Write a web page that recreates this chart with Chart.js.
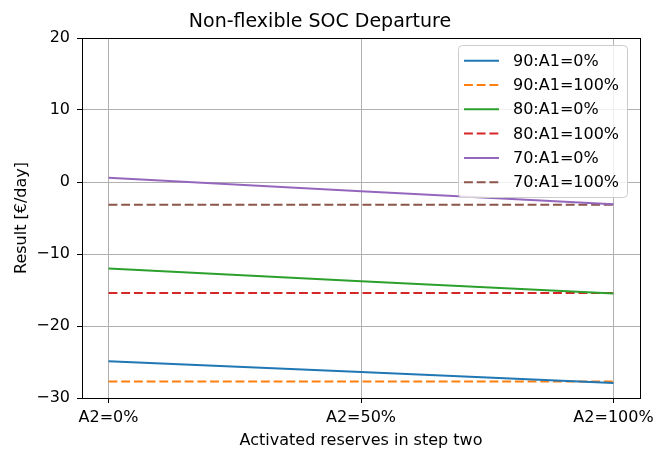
<!DOCTYPE html>
<html>
<head>
<meta charset="utf-8">
<script src="https://cdn.jsdelivr.net/npm/chart.js@4/dist/chart.umd.min.js"></script>
<style>
html,body{margin:0;padding:0;background:#fff;}
#wrap{width:654px;height:451px;}
</style>
</head>
<body>
<div id="wrap"><canvas id="c" width="654" height="451"></canvas></div>
<script>
const categories = ['A2=0%', 'A2=50%', 'A2=100%'];
const reservePct = [0, 50, 100];
const yTicks = [-30, -20, -10, 0, 10, 20];
const seriesLabels = ['90:A1=0%', '90:A1=100%', '80:A1=0%', '80:A1=100%', '70:A1=0%', '70:A1=100%'];
const s90_0 = [-24.9, -26.4, -27.9];
const s90_100 = [-27.7, -27.7, -27.7];
const s80_0 = [-12.0, -13.8, -15.5];
const s80_100 = [-15.4, -15.4, -15.4];
const s70_0 = [0.6, -1.3, -3.1];
const s70_100 = [-3.15, -3.15, -3.15];

const seriesValues = [s90_0, s90_100, s80_0, s80_100, s70_0, s70_100];
const colors = ['#1f77b4', '#ff7f0e', '#2ca02c', '#d62728', '#9467bd', '#8c564b'];
const dashes = [[], [8.9, 3.8], [], [8.9, 3.8], [], [8.9, 3.8]];
const FONT = '"DejaVu Sans", sans-serif';

const datasets = seriesValues.map((vals, i) => ({
  label: seriesLabels[i],
  data: vals.map((v, j) => ({x: reservePct[j], y: v})),
  borderColor: colors[i],
  backgroundColor: colors[i],
  borderWidth: 2,
  borderDash: dashes[i],
  pointRadius: 0,
  tension: 0,
  fill: false
}));

const framePlugin = {
  id: 'frame',
  afterDatasetsDraw(chart) {
    const {ctx, chartArea: a} = chart;
    ctx.save();
    ctx.strokeStyle = '#000';
    ctx.lineWidth = 1;
    ctx.strokeRect(Math.round(a.left) + 0.5, Math.round(a.top) + 0.5, Math.round(a.right - a.left), Math.round(a.bottom - a.top));
    ctx.restore();
  }
};

const legendPlugin = {
  id: 'insideLegend',
  afterDraw(chart) {
    const {ctx} = chart;
    const x0 = 458.5, y0 = 45.5, w = 169, h = 152, r = 4;
    ctx.save();
    ctx.beginPath();
    ctx.moveTo(x0 + r, y0);
    ctx.lineTo(x0 + w - r, y0);
    ctx.quadraticCurveTo(x0 + w, y0, x0 + w, y0 + r);
    ctx.lineTo(x0 + w, y0 + h - r);
    ctx.quadraticCurveTo(x0 + w, y0 + h, x0 + w - r, y0 + h);
    ctx.lineTo(x0 + r, y0 + h);
    ctx.quadraticCurveTo(x0, y0 + h, x0, y0 + h - r);
    ctx.lineTo(x0, y0 + r);
    ctx.quadraticCurveTo(x0, y0, x0 + r, y0);
    ctx.closePath();
    ctx.fillStyle = 'rgba(255,255,255,0.8)';
    ctx.fill();
    ctx.strokeStyle = '#cccccc';
    ctx.lineWidth = 1;
    ctx.stroke();
    ctx.font = '16px ' + FONT;
    ctx.textBaseline = 'middle';
    ctx.fillStyle = '#000';
    chart.data.datasets.forEach((ds, i) => {
      const yc = 60.7 + i * 24.3;
      ctx.beginPath();
      ctx.setLineDash(ds.borderDash);
      ctx.strokeStyle = ds.borderColor;
      ctx.lineWidth = 2;
      ctx.moveTo(464, yc);
      ctx.lineTo(499, yc);
      ctx.stroke();
      ctx.setLineDash([]);
      ctx.fillText(ds.label, 513, yc + 1);
    });
    ctx.restore();
  }
};

new Chart(document.getElementById('c'), {
  type: 'line',
  data: {datasets},
  plugins: [framePlugin, legendPlugin],
  options: {
    responsive: false,
    animation: false,
    layout: {padding: {left: 0, right: 14, top: 0, bottom: 0}},
    plugins: {
      legend: {display: false},
      tooltip: {enabled: false},
      title: {
        display: true,
        text: 'Non-flexible SOC Departure',
        color: '#000',
        font: {family: FONT, size: 19, weight: 'normal', lineHeight: 1.2},
        padding: {top: 11, bottom: 4.2}
      }
    },
    scales: {
      x: {
        type: 'linear',
        min: -5.25,
        max: 105.25,
        afterBuildTicks(scale) { scale.ticks = reservePct.map(v => ({value: v})); },
        afterFit(scale) { scale.height = 53; scale.paddingLeft = 0; scale.paddingRight = 0; },
        ticks: {
          color: '#000',
          font: {family: FONT, size: 16},
          padding: 5,
          maxRotation: 0,
          autoSkip: false,
          callback: (v) => { const i = reservePct.indexOf(v); return i >= 0 ? categories[i] : ''; }
        },
        grid: {color: '#b0b0b0', lineWidth: 1, tickLength: 5, tickColor: '#000', drawTicks: true},
        border: {color: '#000', width: 1},
        title: {
          display: true,
          text: 'Activated reserves in step two',
          color: '#000',
          font: {family: FONT, size: 16},
          padding: {top: 0, bottom: 1}
        }
      },
      y: {
        type: 'linear',
        min: -30,
        max: 20,
        afterBuildTicks(scale) { scale.ticks = yTicks.map(v => ({value: v})); },
        afterFit(scale) { scale.width = 82; scale.paddingTop = 0; scale.paddingBottom = 0; },
        ticks: {
          color: '#000',
          font: {family: FONT, size: 16},
          padding: 7,
          callback: (v) => String(v).replace('-', '\u2212')
        },
        grid: {color: '#b0b0b0', lineWidth: 1, tickLength: 5, tickColor: '#000', drawTicks: true},
        border: {color: '#000', width: 1},
        title: {
          display: true,
          text: 'Result [€/day]',
          color: '#000',
          font: {family: FONT, size: 16},
          padding: {top: 12, bottom: 0}
        }
      }
    }
  }
});
</script>
</body>
</html>
